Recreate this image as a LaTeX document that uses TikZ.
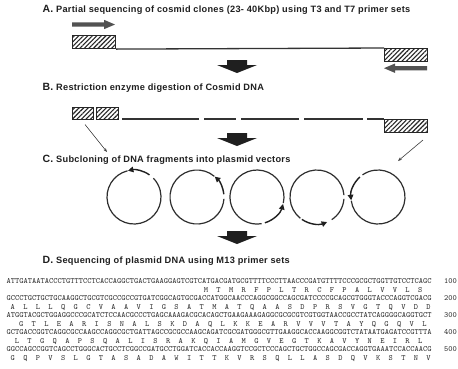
\documentclass[tikz,border=0pt]{standalone}
\usepackage{fontspec}
\setmainfont{Liberation Sans}
\newfontfamily\hdfont[LetterSpace=3]{Liberation Sans}
\usetikzlibrary{arrows.meta,patterns.meta}
\newcommand\hdtext[2]{{\fontsize{10.5}{12}\selectfont\bfseries #1}\hskip3pt{\hdfont\fontsize{9.2}{11}\selectfont\bfseries #2}}
\begin{document}
\begin{tikzpicture}[x=1pt,y=1pt,
  hatch/.style={draw=black!85, line width=0.8pt, pattern={Lines[angle=45,distance=3.2pt,line width=1.1pt]}, pattern color=black!85, inner sep=0pt},
  dna/.style={draw=black!80, line width=1.3pt},
  grayarrow/.style={fill=black!68, draw=none},
  block/.style={fill=black!88, draw=none},
  thinarrow/.style={draw=black!75, line width=0.6pt, -{Stealth[length=4pt,width=3pt]}},
  ring/.style={draw=black!82, line width=1.2pt},
  insert/.style={draw=black!88, line width=1.4pt, -{Triangle[length=5.5pt,width=5.5pt]}},
  head/.style={anchor=base west, inner sep=0pt, text=black!88},
  seq/.style={anchor=base west, inner sep=0pt, text=black!80, font=\ttfamily\fontsize{8}{9}\selectfont},
  aa/.style={anchor=base, inner sep=0pt, text=black!80, font=\ttfamily\fontsize{8}{9}\selectfont}
]
\path[use as bounding box, fill=white] (0,0) rectangle (458,-368);

% ---- headings
\node[head] (hA) at (42.5,-12.8) {\hdtext{A.}{Partial sequencing of cosmid clones (23- 40Kbp) using T3 and T7 primer sets}};
\node[head] (hB) at (42.5,-90.8) {\hdtext{B.}{Restriction enzyme digestion of Cosmid DNA}};
\node[head] (hC) at (42.5,-162.8) {\hdtext{C.}{Subcloning of DNA fragments into plasmid vectors}};
\node[head] (hD) at (42.5,-263.3) {\hdtext{D.}{Sequencing of plasmid DNA using M13 primer sets}};

% ---- A: cosmid with end sequences
\node[hatch, minimum width=43pt, minimum height=13pt, anchor=north west] (aL) at (72,-35) {};
\node[hatch, minimum width=43pt, minimum height=13pt, anchor=north west] (aR) at (384,-48) {};
\draw[dna] (aL.south east) -- (aR.north west);
\fill[grayarrow] (72,-22.3) -- (104,-22.3) -- (104,-19.8) -- (115,-24.5) -- (104,-29.2) -- (104,-26.7) -- (72,-26.7) -- cycle;
\fill[grayarrow] (427,-66) -- (395,-66) -- (395,-63.5) -- (384,-68.2) -- (395,-72.9) -- (395,-70.4) -- (427,-70.4) -- cycle;

% ---- block arrows
\foreach \t/\n in {60/1,133/2,231/3}{
  \fill[block] (227,-\t) -- (247,-\t) -- (247,-\t-5) -- (257,-\t-5) -- (237,-\t-13) -- (217,-\t-5) -- (227,-\t-5) -- cycle;
}

% ---- B: digested fragments
\node[hatch, minimum width=21pt, minimum height=12pt, anchor=north west] (b1) at (72,-107) {};
\node[hatch, minimum width=22pt, minimum height=12pt, anchor=north west] (b2) at (96,-107) {};
\node[hatch, minimum width=43pt, minimum height=13pt, anchor=north west] (bR) at (384,-119) {};
\foreach \a/\b in {122/199,204/236,241/299,304/363,367/384}{
  \draw[dna] (\a,-119) -- (\b,-119);
}
\coordinate (tL0) at (85,-124.5);
\coordinate (tL1) at (107,-152);
\coordinate (tR0) at (423,-140);
\coordinate (tR1) at (398,-161);
\draw[thinarrow] (tL0) -- (tL1);
\draw[thinarrow] (tR0) -- (tR1);

% ---- C: plasmids
\coordinate (p1) at (134,-197);
\coordinate (p2) at (197,-197);
\coordinate (p3) at (257,-197);
\coordinate (p4) at (317,-197);
\coordinate (p5) at (378,-197);
\def\R{27}
% circle 1
\draw[ring] ([shift={(104:\R)}]p1) arc[start angle=104, end angle=404, radius=\R];
\draw[insert] ([shift={(55:\R)}]p1) arc[start angle=55, end angle=103, radius=\R];
% circle 2
\draw[ring] ([shift={(50:\R)}]p2) arc[start angle=50, end angle=356, radius=\R];
\draw[insert] ([shift={(6:\R)}]p2) arc[start angle=6, end angle=49, radius=\R];
% circle 3
\draw[ring] ([shift={(-13:\R)}]p3) arc[start angle=-13, end angle=280, radius=\R];
\draw[insert] ([shift={(-73:\R)}]p3) arc[start angle=-73, end angle=-15, radius=\R];
% circle 4
\draw[ring] ([shift={(4:\R)}]p4) arc[start angle=4, end angle=232, radius=\R];
\draw[ring] ([shift={(-57:\R)}]p4) arc[start angle=-57, end angle=-4, radius=\R];
\draw[insert] ([shift={(-124:\R)}]p4) arc[start angle=-124, end angle=-68, radius=\R];
% circle 5
\draw[ring] ([shift={(188:\R)}]p5) arc[start angle=188, end angle=485, radius=\R];
\draw[insert] ([shift={(132:\R)}]p5) arc[start angle=132, end angle=187, radius=\R];

% ---- D: sequence
\def\xo{6.5}
\def\cw{4.2}
\node[seq] (s1) at (\xo,-283.5) {ATTGATAATACCCTGTTTCCTCACCAGGCTGACTGAAGGAGTCGTCATGACGATGCGTTTTCCCTTAACCCGATGTTTTCCCGCGCTGGTTGTCCTCAGC};
\node[seq] (s2) at (\xo,-300.5) {GCCCTGCTGCTGCAAGGCTGCGTCGCCGCCGTGATCGGCAGTGCGACCATGGCAACCCAGGCGGCCAGCGATCCCCGCAGCGTGGGTACCCAGGTCGACG};
\node[seq] (s3) at (\xo,-317.5) {ATGGTACGCTGGAGGCCCGCATCTCCAACGCCCTGAGCAAAGACGCACAGCTGAAGAAAGAGGCGCGCGTCGTGGTAACCGCCTATCAGGGGCAGGTGCT};
\node[seq] (s4) at (\xo,-334.5) {GCTGACCGGTCAGGCGCCAAGCCAGGCGCTGATTAGCCGCGCCAAGCAGATCGCGATGGGCGTTGAAGGCACCAAGGCGGTCTATAATGAGATCCGTTTA};
\node[seq] (s5) at (\xo,-351.5) {GGCCAGCCGGTCAGCCTGGGCACTGCCTCGGCCGATGCCTGGATCACCACCAAGGTCCGCTCCCAGCTGCTGGCCAGCGACCAGGTGAAATCCACCAACG};
\foreach \k/\yy in {1/283.5,2/300.5,3/317.5,4/334.5,5/351.5}{
  \node[seq] (n\k) at (444,-\yy) {\k00};
}
\foreach \a [count=\i from 0] in {M,T,M,R,F,P,L,T,R,C,F,P,A,L,V,V,L,S}
  \node[aa] (pa\i) at ({\xo+(47.5+3*\i)*\cw},-292) {\a};
\foreach \a [count=\i from 0] in {A,L,L,L,Q,G,C,V,A,A,V,I,G,S,A,T,M,A,T,Q,A,A,S,D,P,R,S,V,G,T,Q,V,D,D}
  \node[aa] (pb\i) at ({\xo+(1.5+3*\i)*\cw},-309) {\a};
\foreach \a [count=\i from 0] in {G,T,L,E,A,R,I,S,N,A,L,S,K,D,A,Q,L,K,K,E,A,R,V,V,V,T,A,Y,Q,G,Q,V,L}
  \node[aa] (pc\i) at ({\xo+(3.5+3*\i)*\cw},-326) {\a};
\foreach \a [count=\i from 0] in {L,T,G,Q,A,P,S,Q,A,L,I,S,R,A,K,Q,I,A,M,G,V,E,G,T,K,A,V,Y,N,E,I,R,L}
  \node[aa] (pd\i) at ({\xo+(2.5+3*\i)*\cw},-343) {\a};
\foreach \a [count=\i from 0] in {G,Q,P,V,S,L,G,T,A,S,A,D,A,W,I,T,T,K,V,R,S,Q,L,L,A,S,D,Q,V,K,S,T,N,V}
  \node[aa] (pe\i) at ({\xo+(1.5+3*\i)*\cw},-360) {\a};
\end{tikzpicture}
\end{document}
